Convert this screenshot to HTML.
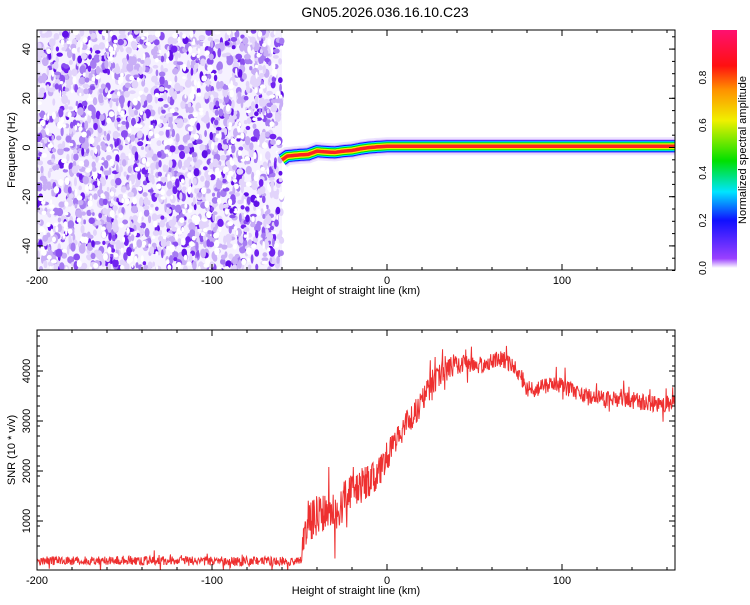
<!DOCTYPE html>
<html><head><meta charset="utf-8">
<style>
body{margin:0;background:#fff;width:750px;height:600px;overflow:hidden;font-family:"Liberation Sans",sans-serif}
svg text{font-family:"Liberation Sans",sans-serif;fill:#000}
</style></head>
<body>
<svg id="c" width="750" height="600" xmlns="http://www.w3.org/2000/svg">
<defs>
<linearGradient id="cb" x1="0" y1="1" x2="0" y2="0">
<stop offset="0" stop-color="#ffffff"/>
<stop offset="0.04" stop-color="#9a40ff"/>
<stop offset="0.2" stop-color="#1010ff"/>
<stop offset="0.32" stop-color="#00e5ff"/>
<stop offset="0.45" stop-color="#00e000"/>
<stop offset="0.62" stop-color="#f0f000"/>
<stop offset="0.75" stop-color="#ff9000"/>
<stop offset="0.85" stop-color="#ff1010"/>
<stop offset="1" stop-color="#ff1070"/>
</linearGradient>
<clipPath id="cp1"><rect x="37" y="30" width="638" height="240"/></clipPath>
<clipPath id="cp2"><rect x="37" y="330" width="638" height="240"/></clipPath>
</defs>
<text x="385" y="17" font-size="14" text-anchor="middle">GN05.2026.036.16.10.C23</text>
<g id="top"></g>
<g id="bot"></g>
<g id="cbar">
<rect x="712" y="30" width="25" height="238" fill="url(#cb)"/>
<text transform="translate(746,150) rotate(-90)" font-size="11" text-anchor="middle">Normalized spectral amplitude</text>
</g>
</svg>
<script>
// ---- data ----
const xTicks=[-200,-100,0,100];
const freqTicks=[-40,-20,0,20,40];
const snrTicks=[1000,2000,3000,4000];
const cbTicks=[0,0.2,0.4,0.6,0.8];
const ridgeKm=[-60,-57,-50,-45,-40,-35,-30,-25,-20,-15,-10,-5,0,10,20,40,80,120,164];
const ridgeHz=[-5,-3.5,-3,-2.8,-1.5,-1.8,-2,-1.5,-1.2,-0.5,0,0.3,0.5,0.5,0.5,0.5,0.5,0.5,0.5];
const snrKm=[-200,-150,-100,-49,-47,-45,-40,-35,-30,-25,-20,-15,-10,-5,0,5,10,15,20,25,30,35,40,50,60,65,70,75,80,85,90,95,100,110,120,130,140,150,164];
const snrVal=[200,210,200,200,900,1000,1100,1150,1200,1400,1600,1700,1800,1950,2300,2600,2900,3100,3400,3700,3950,4100,4150,4100,4200,4250,4150,4000,3650,3600,3700,3750,3700,3550,3450,3450,3400,3350,3350];
const snrNoise=[120,120,120,120,600,600,550,500,550,550,500,500,450,400,400,350,350,350,350,400,400,350,280,220,220,220,220,220,220,220,220,220,220,220,220,220,220,220,220];
// ---- axes ----
const X=k=>37+(k+200)*1.75;
const Yf=h=>147.5-h*2.46;
const Ys=v=>571-v*0.05;
const NS='http://www.w3.org/2000/svg';
function mk(p,t,a){const e=document.createElementNS(NS,t);for(const k in a)e.setAttribute(k,a[k]);p.appendChild(e);return e;}
let s=12345;function rnd(){s=(s*16807)%2147483647;return s/2147483647;}
function interp(xs,ys,x){for(let i=0;i<xs.length-1;i++){if(x<=xs[i+1]){const t=(x-xs[i])/(xs[i+1]-xs[i]);return ys[i]+t*(ys[i+1]-ys[i]);}}return ys[ys.length-1];}
const topG=document.getElementById('top'),botG=document.getElementById('bot');
// noise texture
const ng=mk(topG,'g',{'clip-path':'url(#cp1)'});


const xe=X(-60);
mk(ng,'rect',{x:37,y:30,width:xe-37,height:240,fill:'#f6f2ff'});
const cols=['#e2d4fb','#c8aef6','#a67cf2','#8a4ef0','#7020f0','#6010e8'];
for(let i=0;i<2200;i++){const x=37+rnd()*(xe-37),y=30+rnd()*240,c=Math.floor(rnd()*rnd()*7.5);
 mk(ng,'ellipse',{cx:x,cy:y,rx:1.3+rnd()*2.2,ry:1.8+rnd()*3,fill:cols[Math.min(c,5)]});}
for(let i=0;i<400;i++){const x=37+rnd()*(xe-37),y=30+rnd()*240;mk(ng,'ellipse',{cx:x,cy:y,rx:1+rnd()*2,ry:1.5+rnd()*2.5,fill:'#fff'});}
// ridge
const rg=mk(topG,'g',{'clip-path':'url(#cp1)'});


function ridgePath(){let d='';for(let k=-60;k<=165;k+=1){d+=(d?'L':'M')+X(k).toFixed(1)+','+Yf(interp(ridgeKm,ridgeHz,k)).toFixed(1);}return d;}
const rp=ridgePath();
[['#ece2ff',18],['#c9a8ff',14],['#1010ff',12],['#00e5ff',10],['#00e000',8],['#f0f000',6],['#ff2020',3.5]].forEach(a=>{
 const p=mk(rg,'path',{d:rp,fill:'none',stroke:a[0],'stroke-width':a[1]});
 
 });
// frame & ticks
function frame(g,y0,yMap,ticks,labelX,fmt,ylab){
 mk(g,'rect',{x:37,y:y0,width:638,height:240,fill:'none',stroke:'#000','stroke-width':1});
 for(let k=-200;k<=160;k+=20){const x=X(k),L=(k%100===0)?6:3;mk(g,'line',{x1:x,y1:y0,x2:x,y2:y0+L,stroke:'#000'});mk(g,'line',{x1:x,y1:y0+240,x2:x,y2:y0+240-L,stroke:'#000'});}
 xTicks.forEach(k=>{const t=mk(g,'text',{x:X(k),y:y0+254,'font-size':11,'text-anchor':'middle'});t.textContent=k;
  
  });
 const xl=mk(g,'text',{x:356,y:y0+264,'font-size':11,'text-anchor':'middle'});xl.textContent='Height of straight line (km)';
 
 
 ticks.forEach(v=>{const y=yMap(v);mk(g,'line',{x1:37,y1:y,x2:43,y2:y,stroke:'#000'});mk(g,'line',{x1:675,y1:y,x2:669,y2:y,stroke:'#000'});
  const t=mk(g,'text',{transform:`translate(${labelX},${y}) rotate(-90)`,'font-size':11,'text-anchor':'middle'});t.textContent=fmt(v);
  
  });
 const yl=mk(g,'text',{transform:`translate(15,${y0+120}) rotate(-90)`,'font-size':11,'text-anchor':'middle'});yl.textContent=ylab;
 
 
}
frame(topG,30,Yf,freqTicks,30,v=>v,'Frequency (Hz)');
for(let h=-50;h<=46;h+=5){const y=Yf(h);mk(topG,'line',{x1:37,y1:y,x2:40,y2:y,stroke:'#000'});mk(topG,'line',{x1:675,y1:y,x2:672,y2:y,stroke:'#000'});}
// SNR line
const lg=mk(botG,'g',{'clip-path':'url(#cp2)'});
let d='';for(let k=-200;k<=165;k+=0.25){const m=interp(snrKm,snrVal,k),n=interp(snrKm,snrNoise,k);const v=m+(rnd()-0.5)*2*n*(rnd()<0.06?1.8:0.75);d+=(d?'L':'M')+X(k).toFixed(2)+','+Ys(Math.max(v,-50)).toFixed(1);}
const sl=mk(lg,'path',{d:d,fill:'none',stroke:'#ee3030','stroke-width':1});


frame(botG,330,Ys,snrTicks,30,v=>v,'SNR (10 * v/v)');
for(let v=500;v<=4800;v+=200){const y=Ys(v);mk(botG,'line',{x1:37,y1:y,x2:40,y2:y,stroke:'#000'});mk(botG,'line',{x1:675,y1:y,x2:672,y2:y,stroke:'#000'});}
// colorbar ticks
const cg=document.getElementById('cbar');
cbTicks.forEach(v=>{const y=268-v*238;const t=mk(cg,'text',{transform:`translate(706,${y}) rotate(-90)`,'font-size':10,'text-anchor':'middle'});t.textContent=v.toFixed(1);
 
 });
</script>
</body></html>
